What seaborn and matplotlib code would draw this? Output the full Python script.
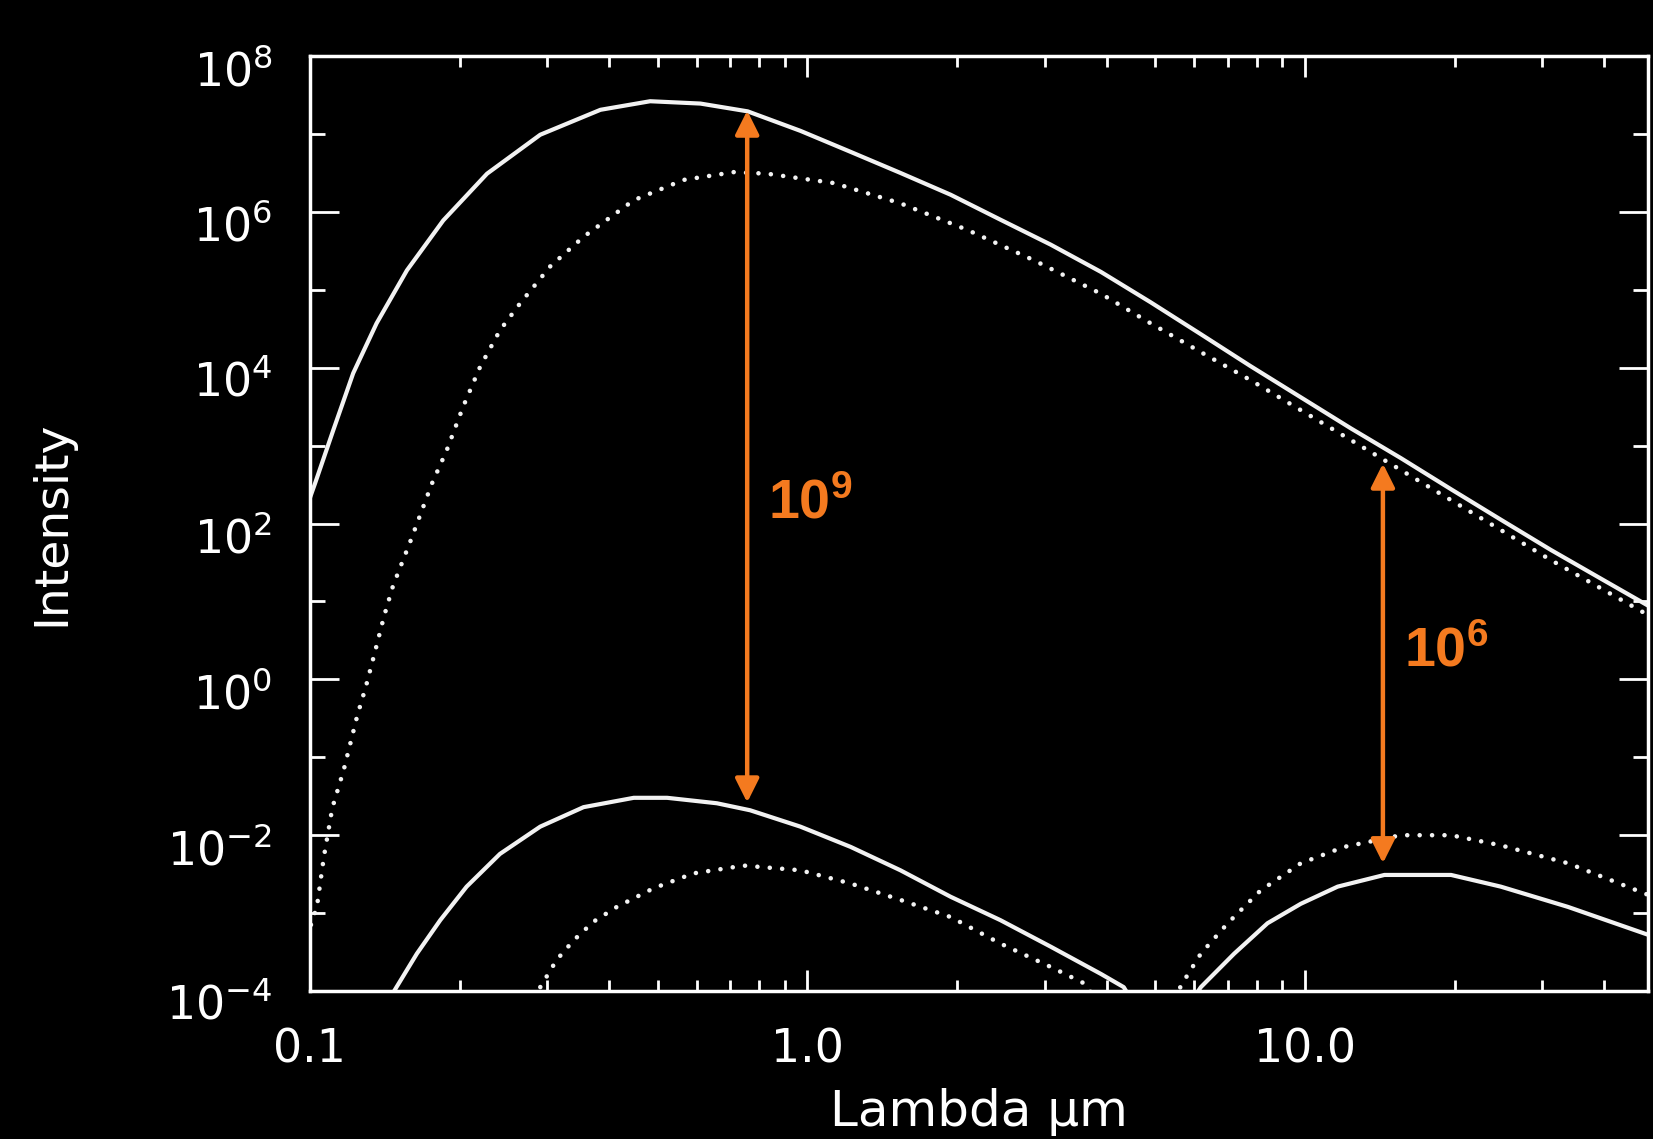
import numpy as np
import pandas as pd
import seaborn as sns
import matplotlib.pyplot as plt
from matplotlib.ticker import FixedLocator, FixedFormatter, LogLocator, NullFormatter
from matplotlib.transforms import ScaledTranslation

# values: log10(wavelength in um) and log10(intensity)
hot_solid_loglam = [-1.000, -0.990, -0.953, -0.913, -0.866, -0.805, -0.732, -0.644, -0.537, -0.416,
                    -0.316, -0.215, -0.120, -0.014, 0.087, 0.187, 0.288, 0.388, 0.489, 0.590,
                    0.690, 0.791, 0.891, 0.992, 1.093, 1.193, 1.294, 1.394, 1.495, 1.596, 1.700]
hot_solid_logI = [2.33, 2.51, 3.20, 3.93, 4.57, 5.25, 5.89, 6.49, 6.99, 7.31,
                  7.42, 7.39, 7.29, 7.04, 6.77, 6.50, 6.22, 5.90, 5.58, 5.23,
                  4.84, 4.43, 4.02, 3.62, 3.22, 2.84, 2.44, 2.05, 1.66, 1.29, 0.91]

hot_dotted_loglam = [-0.998, -0.986, -0.972, -0.955, -0.932, -0.905, -0.887, -0.869, -0.851, -0.833,
                     -0.797, -0.755, -0.725, -0.692, -0.658, -0.618, -0.577, -0.517, -0.450, -0.349,
                     -0.249, -0.148, -0.081, 0.053, 0.187, 0.321, 0.455, 0.590, 0.690, 0.791,
                     0.891, 1.093, 1.294, 1.495, 1.700]
hot_dotted_logI = [-3.15, -2.92, -2.28, -1.65, -1.16, -0.47, -0.08, 0.36, 0.81, 1.20,
                   1.79, 2.51, 2.94, 3.50, 4.01, 4.48, 4.83, 5.30, 5.68, 6.15,
                   6.41, 6.51, 6.49, 6.37, 6.11, 5.77, 5.38, 4.95, 4.57, 4.20,
                   3.84, 3.07, 2.30, 1.53, 0.79]

low_solid_loglam = [-0.840, -0.826, -0.785, -0.738, -0.685, -0.618, -0.537, -0.450, -0.349, -0.282,
                    -0.182, -0.115, -0.014, 0.087, 0.187, 0.288, 0.388, 0.489, 0.590, 0.636, 0.650]
low_solid_logI = [-4.10, -3.95, -3.52, -3.09, -2.66, -2.24, -1.89, -1.64, -1.52, -1.52,
                  -1.59, -1.68, -1.89, -2.15, -2.45, -2.79, -3.09, -3.43, -3.78, -3.95, -4.10]

low_dotted_loglam = [-0.545, -0.537, -0.504, -0.470, -0.430, -0.383, -0.309, -0.229, -0.128, -0.014,
                     0.087, 0.187, 0.288, 0.388, 0.489, 0.556, 0.580]
low_dotted_logI = [-4.10, -3.95, -3.60, -3.35, -3.11, -2.92, -2.68, -2.49, -2.39, -2.45,
                   -2.62, -2.83, -3.05, -3.39, -3.69, -3.90, -4.10]

ir_solid_loglam = [0.775, 0.791, 0.858, 0.925, 0.992, 1.066, 1.160, 1.294, 1.394, 1.529, 1.700]
ir_solid_logI = [-4.10, -3.95, -3.52, -3.13, -2.88, -2.66, -2.51, -2.51, -2.66, -2.92, -3.30]

ir_dotted_loglam = [0.740, 0.751, 0.791, 0.845, 0.911, 0.992, 1.079, 1.193, 1.294, 1.394, 1.529, 1.700]
ir_dotted_logI = [-4.10, -3.93, -3.52, -3.13, -2.71, -2.36, -2.15, -2.00, -2.00, -2.13, -2.36, -2.79]

# contrast arrows: log10(wavelength), log10(bottom), log10(top), label exponent
arrow_loglam = [-0.121, 1.157]
arrow_bottom_logI = [-1.58, -2.36]
arrow_top_logI = [7.30, 2.77]
arrow_labels = ["9", "6"]
label_loglam = [-0.080, 1.199]
label_logI = [2.07, 0.17]

x_ticks = [0.1, 1.0, 10.0]
x_tick_labels = ["0.1", "1.0", "10.0"]
y_tick_exps = [-4, -2, 0, 2, 4, 6, 8]
y_minor_exps = [-3, -1, 1, 3, 5, 7]

white = "#F2F2F2"
orange = "#F47A1F"

sns.set_theme(style="ticks", rc={
    "figure.facecolor": "black", "axes.facecolor": "black", "savefig.facecolor": "black",
    "axes.edgecolor": "white", "text.color": "white", "axes.labelcolor": "white",
    "xtick.color": "white", "ytick.color": "white", "axes.linewidth": 2.5,
})
plt.rcParams["font.family"] = ["DejaVu Sans"]

fig = plt.figure(figsize=(16.53, 11.39), dpi=100)
ax = fig.add_axes([0.1875, 0.1299, 0.8095, 0.8209])
ax.set_xscale("log")
ax.set_yscale("log")

curves = [
    (hot_solid_loglam, hot_solid_logI, "solid"),
    (hot_dotted_loglam, hot_dotted_logI, "dotted"),
    (low_solid_loglam, low_solid_logI, "solid"),
    (low_dotted_loglam, low_dotted_logI, "dotted"),
    (ir_solid_loglam, ir_solid_logI, "solid"),
    (ir_dotted_loglam, ir_dotted_logI, "dotted"),
]
for loglam, logI, style in curves:
    df = pd.DataFrame({"lam": 10.0 ** np.array(loglam), "I": 10.0 ** np.array(logI)})
    if style == "dotted":
        sns.lineplot(data=df, x="lam", y="I", ax=ax, color=white, lw=3.3, estimator=None, sort=False,
                     linestyle=(0, (0.01, 2.7)), dash_capstyle="round")
    else:
        sns.lineplot(data=df, x="lam", y="I", ax=ax, color=white, lw=3.0, estimator=None, sort=False,
                     solid_capstyle="round", solid_joinstyle="round")

for lx, lo, hi in zip(arrow_loglam, arrow_bottom_logI, arrow_top_logI):
    ax.annotate("", xy=(10 ** lx, 10 ** hi), xytext=(10 ** lx, 10 ** lo),
                arrowprops=dict(arrowstyle="<|-|>", color=orange, lw=3.2, mutation_scale=36,
                                shrinkA=0, shrinkB=0))

for tx, ty, exp in zip(label_loglam, label_logI, arrow_labels):
    ax.text(10 ** tx, 10 ** ty, r"$\mathregular{10^{%s}}$" % exp, color=orange,
            family="Liberation Sans", fontweight="bold", fontsize=40, ha="left", va="baseline")

ax.set_xlim(0.1, 10 ** 1.69)
ax.set_ylim(1e-4, 1e8)

ax.xaxis.set_major_locator(FixedLocator(x_ticks))
ax.xaxis.set_major_formatter(FixedFormatter(x_tick_labels))
ax.xaxis.set_minor_locator(LogLocator(base=10, subs=np.arange(2, 10), numticks=10))
ax.xaxis.set_minor_formatter(NullFormatter())
ax.yaxis.set_major_locator(FixedLocator([10.0 ** e for e in y_tick_exps]))
ax.yaxis.set_major_formatter(NullFormatter())
ax.yaxis.set_minor_locator(FixedLocator([10.0 ** e for e in y_minor_exps]))
ax.yaxis.set_minor_formatter(NullFormatter())

ax.tick_params(which="both", direction="in", top=True, right=True, width=2, colors="white")
ax.tick_params(axis="x", which="major", length=15, pad=26, labelsize=33)
ax.tick_params(axis="x", which="minor", length=8)
ax.tick_params(axis="y", which="major", length=21)
ax.tick_params(axis="y", which="minor", length=11)

# y tick labels, IDL style: they sit a little below their tick
ylab_trans = ax.get_yaxis_transform() + ScaledTranslation(-27 / 72, -8 / 72, fig.dpi_scale_trans)
for e in y_tick_exps:
    ax.text(0, 10.0 ** e, r"$\mathregular{10^{%d}}$" % e, transform=ylab_trans, fontsize=33,
            color="white", ha="right", va="center_baseline", clip_on=False)

for sp in ax.spines.values():
    sp.set_color("white")
    sp.set_linewidth(2.5)

ax.set_xlabel("Lambda \u03bcm", fontsize=36, color="white")
ax.set_ylabel("Intensity", fontsize=34, color="white")
ax.xaxis.set_label_coords(0.5, -0.104)
ax.yaxis.set_label_coords(-0.176, 0.5)

fig.savefig("out.png", dpi=100, facecolor="black")
